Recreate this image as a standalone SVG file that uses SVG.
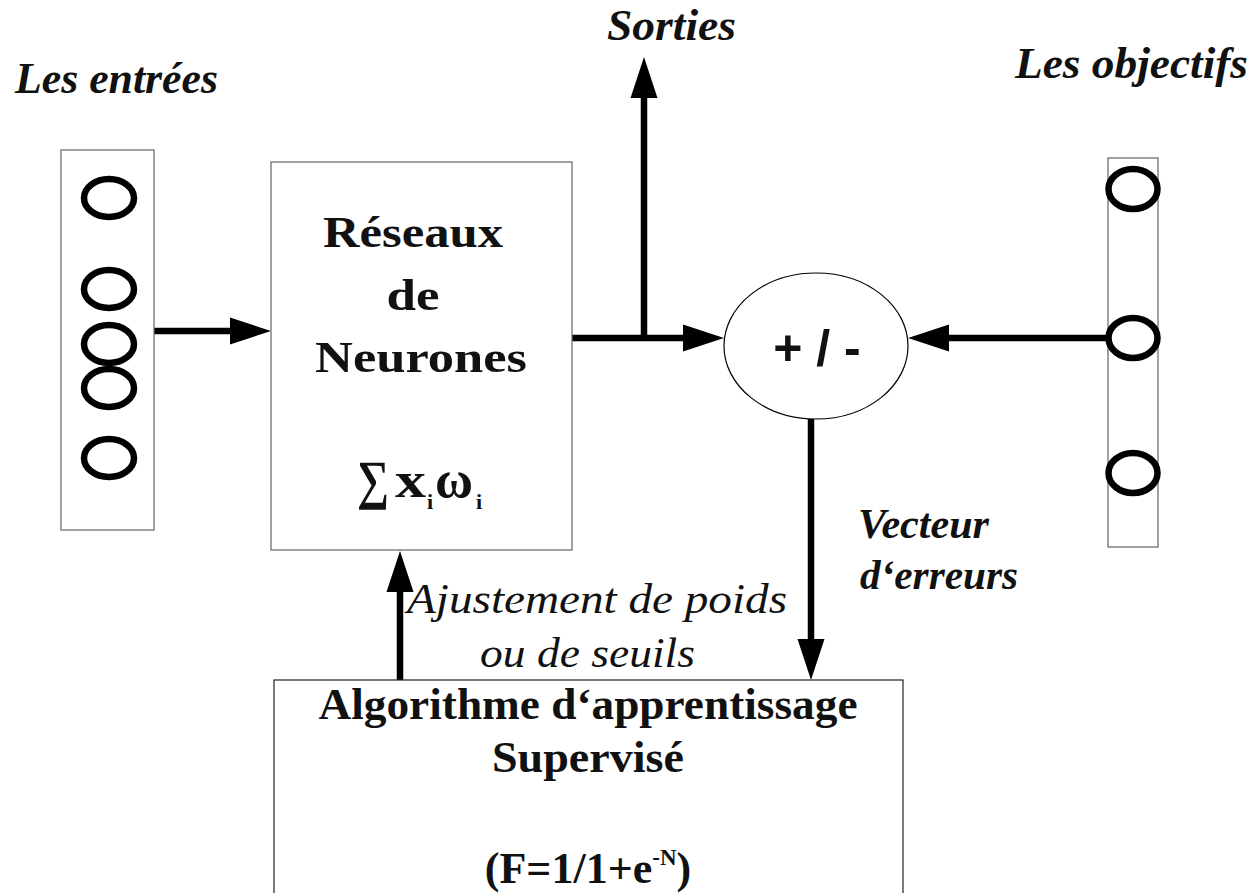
<svg xmlns="http://www.w3.org/2000/svg" width="1256" height="893" viewBox="0 0 1256 893">
<style>
.box{fill:#fff;stroke:#707070;stroke-width:1.3}
.neu{fill:none;stroke:#000;stroke-width:6.5}
.con{fill:none;stroke:#000;stroke-width:6.5;marker-end:url(#ah)}
.b{font-family:"Liberation Serif",serif;font-weight:bold;fill:#111}
.it{font-family:"Liberation Serif",serif;font-style:italic;fill:#111}
.sans{font-family:"Liberation Sans",sans-serif;font-weight:bold;fill:#111}
</style>
<defs>
<marker id="ah" markerUnits="userSpaceOnUse" viewBox="-1 -14 42 28" markerWidth="42" markerHeight="28" refX="0" refY="0" orient="auto" overflow="visible">
<path d="M-1,-13.5 L40,0 L-1,13.5 z" fill="#000"/>
</marker>
</defs>
<rect width="1256" height="893" fill="#fff"/>

<g id="connectors">
<line class="con" x1="154" y1="331" x2="231" y2="331"/>
<line class="con" x1="572" y1="338" x2="684" y2="338"/>
<line class="con" x1="644" y1="341" x2="644" y2="97"/>
<line class="con" x1="1109" y1="338" x2="948" y2="338"/>
<line class="con" x1="811" y1="419" x2="811" y2="640"/>
<line class="con" x1="400" y1="680" x2="400" y2="591"/>
</g>

<g id="entrees">
<rect class="box" x="61" y="150" width="93" height="380"/>
<ellipse class="neu" cx="109" cy="198" rx="25" ry="19"/>
<ellipse class="neu" cx="109" cy="289" rx="25" ry="19"/>
<ellipse class="neu" cx="109" cy="344" rx="25" ry="19"/>
<ellipse class="neu" cx="109" cy="388" rx="25" ry="19"/>
<ellipse class="neu" cx="109" cy="458" rx="25" ry="19"/>
</g>

<g id="reseaux">
<rect class="box" x="271" y="162" width="301" height="388"/>
<text class="b" x="413" y="247" font-size="45" text-anchor="middle" textLength="180" lengthAdjust="spacingAndGlyphs">Réseaux</text>
<text class="b" x="413" y="310" font-size="45" text-anchor="middle" textLength="53" lengthAdjust="spacingAndGlyphs">de</text>
<text class="b" x="421" y="372" font-size="45" text-anchor="middle" textLength="212" lengthAdjust="spacingAndGlyphs">Neurones</text>
<text class="b" x="357" y="498" font-size="54" textLength="32" lengthAdjust="spacingAndGlyphs">∑</text>
<text class="b" x="395" y="497" font-size="50" textLength="31" lengthAdjust="spacingAndGlyphs">x</text>
<text class="b" x="427" y="509" font-size="22">i</text>
<text class="b" x="435" y="497" font-size="52" textLength="38" lengthAdjust="spacingAndGlyphs">ω</text>
<text class="b" x="476" y="509" font-size="22">i</text>
</g>

<g id="comparateur">
<ellipse cx="816" cy="346" rx="92" ry="73" fill="#fff" stroke="#000" stroke-width="1.2"/>
<text class="sans" x="817" y="365" font-size="50" text-anchor="middle">+ / -</text>
</g>

<g id="objectifs">
<rect class="box" x="1108" y="158" width="50" height="389"/>
<ellipse class="neu" cx="1133" cy="189" rx="24.5" ry="20"/>
<ellipse class="neu" cx="1133" cy="338" rx="24.5" ry="20"/>
<ellipse class="neu" cx="1133" cy="473" rx="24.5" ry="20"/>
</g>

<g id="algorithme">
<rect x="274" y="680" width="629" height="230" fill="#fff" stroke="#222" stroke-width="1.2"/>
<text class="b" x="588" y="719" font-size="44" text-anchor="middle" textLength="539" lengthAdjust="spacingAndGlyphs">Algorithme d‘apprentissage</text>
<text class="b" x="588" y="772" font-size="44" text-anchor="middle" textLength="192" lengthAdjust="spacingAndGlyphs">Supervisé</text>
<text class="b" x="588" y="883" font-size="44" text-anchor="middle">(F=1/1+e<tspan font-size="23" dy="-18">-N</tspan><tspan dy="18">)</tspan></text>
</g>

<g id="labels">
<text class="it" x="15" y="93" font-size="44" font-weight="bold" textLength="203" lengthAdjust="spacingAndGlyphs">Les entrées</text>
<text class="it" x="607" y="40" font-size="44" font-weight="bold" textLength="129" lengthAdjust="spacingAndGlyphs">Sorties</text>
<text class="it" x="1015" y="78" font-size="44" font-weight="bold" textLength="233" lengthAdjust="spacingAndGlyphs">Les objectifs</text>
<text class="it" x="858" y="538" font-size="42" font-weight="bold" textLength="131" lengthAdjust="spacingAndGlyphs">Vecteur</text>
<text class="it" x="860" y="589" font-size="42" font-weight="bold" textLength="158" lengthAdjust="spacingAndGlyphs">d‘erreurs</text>
<text class="it" x="407" y="613" font-size="43" textLength="380" lengthAdjust="spacingAndGlyphs">Ajustement de poids</text>
<text class="it" x="480" y="667" font-size="43" textLength="215" lengthAdjust="spacingAndGlyphs">ou de seuils</text>
</g>
</svg>
